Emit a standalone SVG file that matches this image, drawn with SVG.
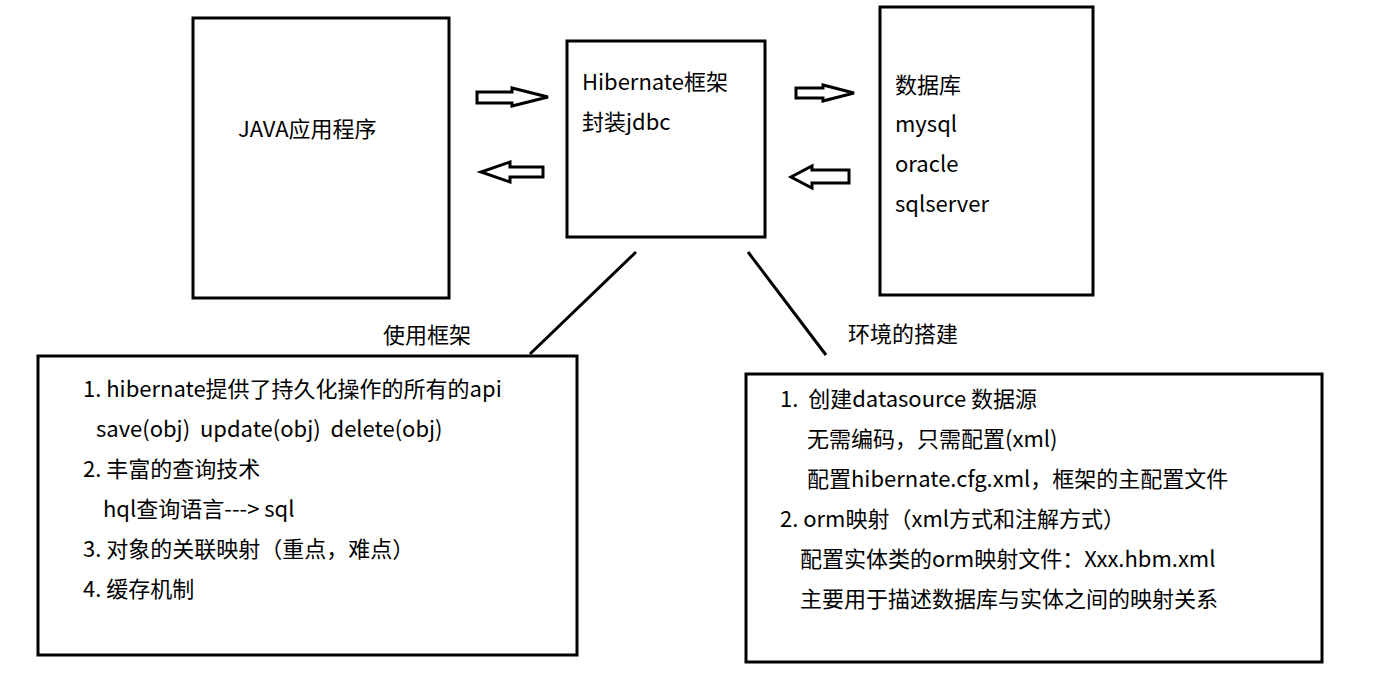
<svg xmlns="http://www.w3.org/2000/svg" width="1392" height="684" viewBox="0 0 1392 684">
<style>
.box{fill:#fff;stroke:#000;stroke-width:3}
.arr{fill:#fff;stroke:#000;stroke-width:3;stroke-linejoin:miter}
.ln{stroke:#000;stroke-width:3;fill:none}
text{font-family:"Noto Sans CJK SC","Noto Sans",sans-serif;font-size:22px;fill:#000}
</style>
<rect width="1392" height="684" fill="#fff"/>
<g id="java-app">
<rect class="box" x="193" y="18" width="256" height="280"/>
<text x="238" y="137">JAVA应用程序</text>
</g>
<g id="hibernate">
<rect class="box" x="567" y="41" width="198" height="196"/>
<text x="582" y="90">Hibernate框架</text>
<text x="582" y="130">封装jdbc</text>
</g>
<g id="database">
<rect class="box" x="880" y="7" width="213" height="288"/>
<text x="895" y="93">数据库</text>
<text x="895" y="132">mysql</text>
<text x="895" y="172">oracle</text>
<text x="895" y="212">sqlserver</text>
</g>
<g id="usage">
<rect class="box" x="38" y="356" width="539" height="299"/>
<text x="83" y="397">1. hibernate提供了持久化操作的所有的api</text>
<text x="96" y="437" xml:space="preserve">save(obj)  update(obj)  delete(obj)</text>
<text x="83" y="477">2. 丰富的查询技术</text>
<text x="103" y="517">hql查询语言---&gt; sql</text>
<text x="83" y="557">3. 对象的关联映射（重点，难点）</text>
<text x="83" y="597">4. 缓存机制</text>
</g>
<g id="setup">
<rect class="box" x="746" y="374" width="576" height="288"/>
<text x="780" y="407" xml:space="preserve">1.  创建datasource 数据源</text>
<text x="807" y="447">无需编码，只需配置(xml)</text>
<text x="807" y="487">配置hibernate.cfg.xml，框架的主配置文件</text>
<text x="780" y="527">2. orm映射（xml方式和注解方式）</text>
<text x="800" y="567">配置实体类的orm映射文件：Xxx.hbm.xml</text>
<text x="800" y="607">主要用于描述数据库与实体之间的映射关系</text>
</g>
<g id="connectors">
<polygon class="arr" points="477,92 512,92 512,88 548,97 512,106 512,103 477,103"/>
<polygon class="arr" points="543,167 510,167 510,162 481,172 510,182 510,177 543,177"/>
<polygon class="arr" points="796,88 823,88 823,85 854,93 823,101 823,98 796,98"/>
<polygon class="arr" points="849,170 812,170 812,166 791,177 812,188 812,183 849,183"/>
<line class="ln" x1="636" y1="252" x2="530" y2="354"/>
<line class="ln" x1="748" y1="252" x2="826" y2="355"/>
<text x="383" y="343">使用框架</text>
<text x="848" y="342">环境的搭建</text>
</g>
</svg>
